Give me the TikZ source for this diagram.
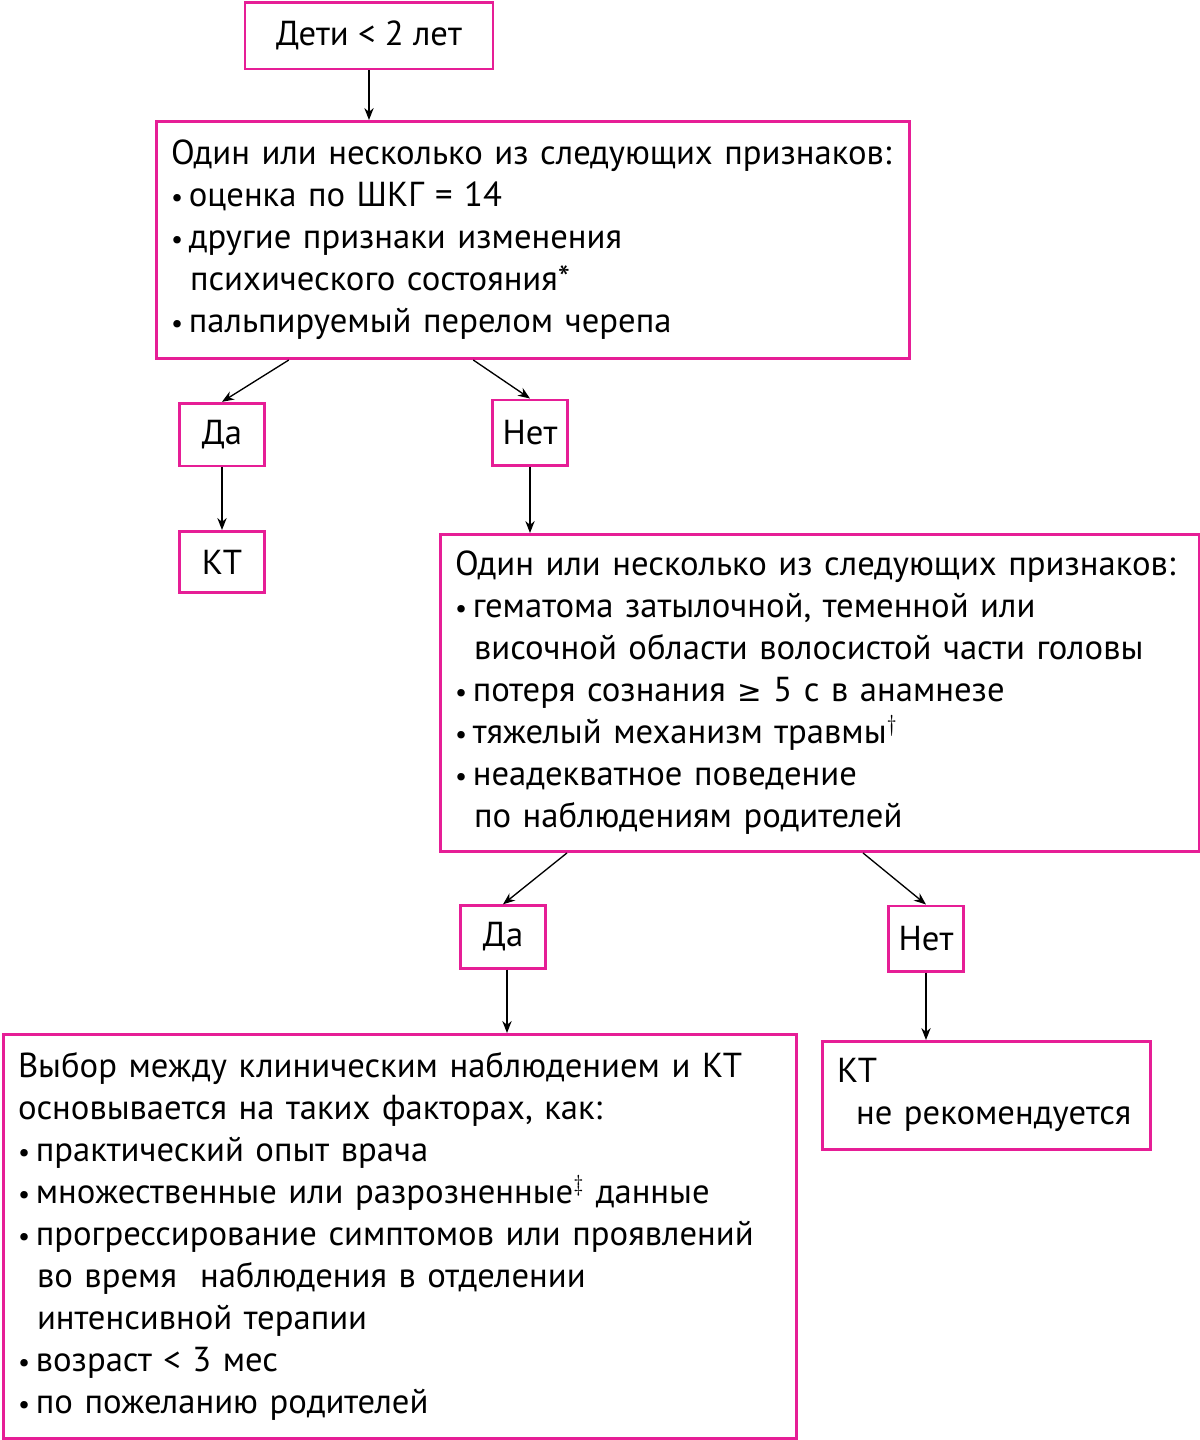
\documentclass[tikz,border=0pt]{standalone}
\usepackage{fontspec}
\setmainfont{PT Sans}
\newfontfamily\symfont{DejaVu Sans}
\usetikzlibrary{arrows.meta, calc, positioning}
\definecolor{boxpink}{RGB}{230,30,150}
\tikzset{
  fbox/.style={rectangle, draw=boxpink, line width=2pt, anchor=north west, align=left,
    inner sep=0pt, font=\fontsize{26}{31.5}\selectfont},
  sbox/.style={rectangle, draw=boxpink, line width=2pt, anchor=center,
    inner sep=0pt, font=\fontsize{26}{31.5}\selectfont},
  arr/.style={-{Stealth[length=9pt,width=7pt]}, line width=1pt}
}
\newcommand{\ind}{\hspace*{0.55em}}
\newcommand{\bul}{{\fontsize{20}{20}\selectfont•}\,}
\begin{document}
\begin{tikzpicture}[x=0.75pt, y=-0.75pt]
  \useasboundingbox (0,0) rectangle (1200,1440);
  % --- top ---
  \node[sbox, minimum width=186pt, minimum height=50pt] (start) at (369,35.5) {Дети < 2 лет};
  \node[fbox, minimum width=565pt, minimum height=178pt, text width=543pt, inner xsep=11pt]
    (signs1) at (155,120) {Один или несколько из следующих признаков:\\
    \bul оценка по ШКГ = 14\\
    \bul другие признаки изменения\\
    \ind психического состояния*\\
    \bul пальпируемый перелом черепа};
  \node[sbox, minimum width=64pt, minimum height=47pt] (yes1) at (222,434.5) {Да};
  \node[sbox, minimum width=56pt, minimum height=49pt] (no1) at (530,432.5) {Нет};
  \node[sbox, minimum width=64pt, minimum height=46pt] (ct1) at (222,562) {КТ};
  % --- middle ---
  \node[fbox, minimum width=569pt, minimum height=238pt, text width=547pt, inner xsep=11pt]
    (signs2) at (439,533) {Один или несколько из следующих признаков:\\
    \bul гематома затылочной, теменной или\\
    \ind височной области волосистой части головы\\
    \bul потеря сознания {\symfont\fontsize{22}{22}\selectfont≥} 5 с в анамнезе\\
    \bul тяжелый механизм травмы$^{\dagger}$\\
    \bul неадекватное поведение\\
    \ind по наблюдениям родителей};
  \node[sbox, minimum width=64pt, minimum height=47pt] (yes2) at (503,937) {Да};
  \node[sbox, minimum width=56pt, minimum height=49pt] (no2) at (926,938.5) {Нет};
  % --- bottom ---
  \node[fbox, minimum width=595pt, minimum height=303pt, text width=573pt, inner xsep=11pt]
    (choice) at (2,1033) {Выбор между клиническим наблюдением и КТ\\
    основывается на таких факторах, как:\\
    \bul практический опыт врача\\
    \bul множественные или разрозненные$^{\ddagger}$ данные\\
    \bul прогрессирование симптомов или проявлений\\
    \ind во время \ наблюдения в отделении\\
    \ind интенсивной терапии\\
    \bul возраст < 3 мес\\
    \bul по пожеланию родителей};
  \node[fbox, minimum width=246pt, minimum height=81pt, text width=224pt, inner xsep=11pt]
    (noct) at (821,1040) {КТ\\ \ind не рекомендуется};
  % connectors
  \draw[arr] (start) -- (start |- signs1.north);
  \draw[arr] ($(signs1.south west)!0.177!(signs1.south east)$) -- (yes1.north);
  \draw[arr] ($(signs1.south west)!0.421!(signs1.south east)$) -- (no1.north);
  \draw[arr] (yes1) -- (ct1);
  \draw[arr] (no1.south) -- (no1 |- signs2.north);
  \draw[arr] ($(signs2.south west)!0.168!(signs2.south east)$) -- (yes2.north);
  \draw[arr] ($(signs2.south west)!0.557!(signs2.south east)$) -- (no2.north);
  \draw[arr] ([xshift=3pt]yes2.south) -- ([xshift=3pt]yes2.south |- choice.north);
  \draw[arr] (no2.south) -- (no2 |- noct.north);
\end{tikzpicture}
\end{document}
